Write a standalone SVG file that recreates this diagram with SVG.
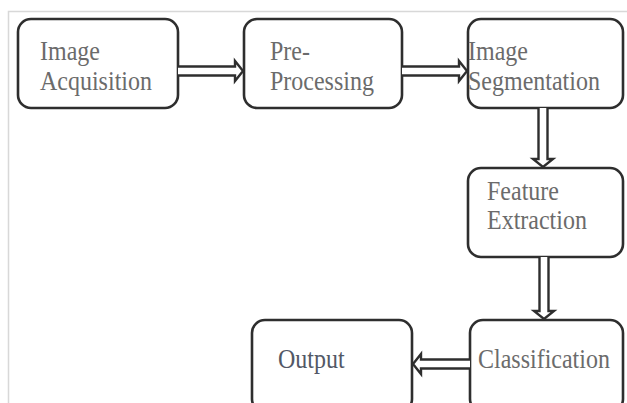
<svg xmlns="http://www.w3.org/2000/svg" width="627" height="403" viewBox="0 0 627 403">
<style>
.box{fill:#fff;stroke:#2e2e2e;stroke-width:2.6}
.t{font-family:"Liberation Serif","Times New Roman",serif;font-size:24px;fill:#6b6b6b}
.arr{fill:#fff;stroke:#2e2e2e;stroke-width:2.4;stroke-linejoin:miter}
</style>
<rect x="0" y="0" width="627" height="403" fill="#fff"/>
<path d="M8.5,403 L8.5,11.5 L627,11.5" fill="none" stroke="#d8d8d8" stroke-width="1.5"/>
<g id="n1"><rect class="box" x="18" y="19" width="160" height="89" rx="13"/><text class="t" transform="translate(40,60) scale(1,1.12)">Image</text><text class="t" transform="translate(40,90) scale(1,1.12)">Acquisition</text></g>
<g id="n2"><rect class="box" x="244" y="19" width="158" height="89" rx="13"/><text class="t" transform="translate(270,60) scale(1,1.12)">Pre-</text><text class="t" transform="translate(270,90) scale(1,1.12)">Processing</text></g>
<g id="n3"><rect class="box" x="468" y="19" width="155" height="89" rx="13"/><text class="t" transform="translate(468,60) scale(1,1.12)">Image</text><text class="t" transform="translate(468,90) scale(1,1.12)">Segmentation</text></g>
<g id="n4"><rect class="box" x="468" y="168" width="155" height="89" rx="13"/><text class="t" transform="translate(487,200) scale(1,1.12)">Feature</text><text class="t" transform="translate(487,229) scale(1,1.12)">Extraction</text></g>
<g id="n5"><rect class="box" x="470" y="320" width="153" height="92" rx="13"/><text class="t" transform="translate(478,368) scale(1,1.12)">Classification</text></g>
<g id="n6"><rect class="box" x="252" y="320" width="160" height="92" rx="13"/><text class="t" transform="translate(278,368) scale(1,1.12)" style="fill:#525866">Output</text></g>
<g id="connectors">
<path class="arr" d="M178,66.5 L235,66.5 L235,61 L243,71 L235,81 L235,75.5 L178,75.5"/>
<path class="arr" d="M402,66.5 L459,66.5 L459,61 L467,71 L459,81 L459,75.5 L402,75.5"/>
<path class="arr" d="M538.5,108 L538.5,159 L533,159 L543,167 L553,159 L547.5,159 L547.5,108"/>
<path class="arr" d="M539.5,257 L539.5,311 L534,311 L544,319 L554,311 L548.5,311 L548.5,257"/>
<path class="arr" d="M470,359.5 L421,359.5 L421,354 L413,364 L421,374 L421,368.5 L470,368.5"/>
</g>
</svg>
